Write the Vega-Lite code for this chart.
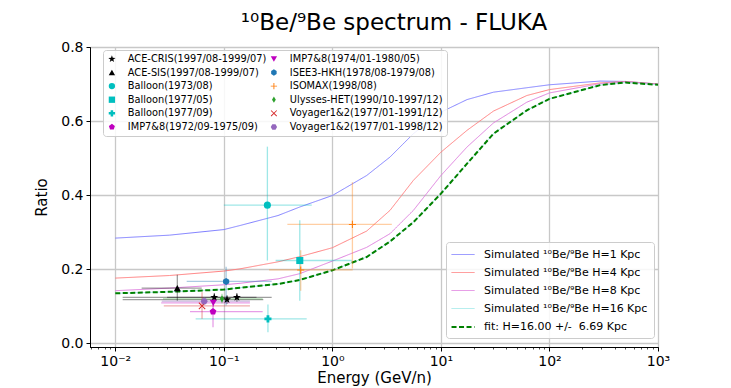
{
  "$schema": "https://vega.github.io/schema/vega-lite/v6.json",
  "width": 568,
  "height": 300,
  "autosize": "none",
  "padding": {"left": 90, "top": 47, "right": 73, "bottom": 41},
  "config": {
    "font": "DejaVu Sans",
    "view": {"stroke": "#000000", "strokeWidth": 1},
    "axis": {"labelColor": "#000000", "titleColor": "#000000", "tickColor": "#000000", "domainColor": "#000000", "gridColor": "#c8c8c8", "gridWidth": 1.3, "titleFontWeight": "normal", "labelFont": "DejaVu Sans", "titleFont": "DejaVu Sans"}
  },
  "title": {"text": "¹⁰Be/⁹Be spectrum - FLUKA", "fontSize": 23, "fontWeight": "normal", "font": "DejaVu Sans", "anchor": "middle", "frame": "group", "dx": 20, "offset": 5, "color": "#000000"},
  "datasets": {
    "points": [
      {"dataset": "ACE-CRIS(1997/08-1999/07)", "E": 0.0817, "r": 0.124, "xlo": 0.0117, "xhi": 0.20, "ylo": 0.112, "yhi": 0.136},
      {"dataset": "ACE-CRIS(1997/08-1999/07)", "E": 0.107, "r": 0.118, "xlo": 0.0117, "xhi": 0.231, "ylo": 0.106, "yhi": 0.130},
      {"dataset": "ACE-CRIS(1997/08-1999/07)", "E": 0.132, "r": 0.124, "xlo": 0.03, "xhi": 0.276, "ylo": 0.112, "yhi": 0.136},
      {"dataset": "ACE-SIS(1997/08-1999/07)", "E": 0.0373, "r": 0.149, "xlo": 0.0175, "xhi": 0.0626, "ylo": 0.115, "yhi": 0.185},
      {"dataset": "Balloon(1973/08)", "E": 0.252, "r": 0.373, "xlo": 0.1, "xhi": 0.646, "ylo": 0.2235, "yhi": 0.531},
      {"dataset": "Balloon(1977/05)", "E": 0.501, "r": 0.2235, "xlo": 0.30, "xhi": 1.51, "ylo": 0.115, "yhi": 0.332},
      {"dataset": "Balloon(1977/09)", "E": 0.255, "r": 0.066, "xlo": 0.055, "xhi": 0.58, "ylo": 0.030, "yhi": 0.105},
      {"dataset": "IMP7&8(1972/09-1975/09)", "E": 0.0795, "r": 0.0857, "xlo": 0.0488, "xhi": 0.228, "ylo": 0.043, "yhi": 0.113},
      {"dataset": "IMP7&8(1974/01-1980/05)", "E": 0.080, "r": 0.109, "xlo": 0.0265, "xhi": 0.174, "ylo": 0.097, "yhi": 0.121},
      {"dataset": "ISEE3-HKH(1978/08-1979/08)", "E": 0.105, "r": 0.167, "xlo": 0.0455, "xhi": 0.276, "ylo": 0.102, "yhi": 0.207},
      {"dataset": "ISOMAX(1998/08)", "E": 1.53, "r": 0.321, "xlo": 0.385, "xhi": 3.53, "ylo": 0.202, "yhi": 0.435},
      {"dataset": "ISOMAX(1998/08)", "E": 0.511, "r": 0.198, "xlo": 0.261, "xhi": 1.54, "ylo": 0.142, "yhi": 0.251},
      {"dataset": "Ulysses-HET(1990/10-1997/12)", "E": 0.0962, "r": 0.120, "xlo": 0.0275, "xhi": 0.228, "ylo": 0.108, "yhi": 0.134},
      {"dataset": "Voyager1&2(1977/01-1991/12)", "E": 0.063, "r": 0.101, "xlo": 0.028, "xhi": 0.174, "ylo": 0.066, "yhi": 0.138},
      {"dataset": "Voyager1&2(1977/01-1998/12)", "E": 0.066, "r": 0.1135, "xlo": 0.0268, "xhi": 0.174, "ylo": 0.103, "yhi": 0.124}
    ],
    "curves": [
      {"series": "Simulated ¹⁰Be/⁹Be H=1 Kpc", "E": 0.01, "r": 0.284},
      {"series": "Simulated ¹⁰Be/⁹Be H=1 Kpc", "E": 0.0316, "r": 0.292},
      {"series": "Simulated ¹⁰Be/⁹Be H=1 Kpc", "E": 0.1, "r": 0.307},
      {"series": "Simulated ¹⁰Be/⁹Be H=1 Kpc", "E": 0.141, "r": 0.318},
      {"series": "Simulated ¹⁰Be/⁹Be H=1 Kpc", "E": 0.316, "r": 0.345},
      {"series": "Simulated ¹⁰Be/⁹Be H=1 Kpc", "E": 0.501, "r": 0.368},
      {"series": "Simulated ¹⁰Be/⁹Be H=1 Kpc", "E": 1, "r": 0.399},
      {"series": "Simulated ¹⁰Be/⁹Be H=1 Kpc", "E": 2.07, "r": 0.453},
      {"series": "Simulated ¹⁰Be/⁹Be H=1 Kpc", "E": 3.40, "r": 0.503},
      {"series": "Simulated ¹⁰Be/⁹Be H=1 Kpc", "E": 5.58, "r": 0.566},
      {"series": "Simulated ¹⁰Be/⁹Be H=1 Kpc", "E": 10, "r": 0.624},
      {"series": "Simulated ¹⁰Be/⁹Be H=1 Kpc", "E": 17.4, "r": 0.658},
      {"series": "Simulated ¹⁰Be/⁹Be H=1 Kpc", "E": 30.5, "r": 0.678},
      {"series": "Simulated ¹⁰Be/⁹Be H=1 Kpc", "E": 61.9, "r": 0.690},
      {"series": "Simulated ¹⁰Be/⁹Be H=1 Kpc", "E": 100, "r": 0.698},
      {"series": "Simulated ¹⁰Be/⁹Be H=1 Kpc", "E": 293, "r": 0.708},
      {"series": "Simulated ¹⁰Be/⁹Be H=1 Kpc", "E": 501, "r": 0.707},
      {"series": "Simulated ¹⁰Be/⁹Be H=1 Kpc", "E": 1000, "r": 0.700},
      {"series": "Simulated ¹⁰Be/⁹Be H=4 Kpc", "E": 0.01, "r": 0.176},
      {"series": "Simulated ¹⁰Be/⁹Be H=4 Kpc", "E": 0.0316, "r": 0.183},
      {"series": "Simulated ¹⁰Be/⁹Be H=4 Kpc", "E": 0.1, "r": 0.195},
      {"series": "Simulated ¹⁰Be/⁹Be H=4 Kpc", "E": 0.141, "r": 0.201},
      {"series": "Simulated ¹⁰Be/⁹Be H=4 Kpc", "E": 0.316, "r": 0.220},
      {"series": "Simulated ¹⁰Be/⁹Be H=4 Kpc", "E": 0.501, "r": 0.234},
      {"series": "Simulated ¹⁰Be/⁹Be H=4 Kpc", "E": 1, "r": 0.258},
      {"series": "Simulated ¹⁰Be/⁹Be H=4 Kpc", "E": 2.07, "r": 0.303},
      {"series": "Simulated ¹⁰Be/⁹Be H=4 Kpc", "E": 3.40, "r": 0.359},
      {"series": "Simulated ¹⁰Be/⁹Be H=4 Kpc", "E": 5.58, "r": 0.440},
      {"series": "Simulated ¹⁰Be/⁹Be H=4 Kpc", "E": 10, "r": 0.516},
      {"series": "Simulated ¹⁰Be/⁹Be H=4 Kpc", "E": 17.4, "r": 0.575},
      {"series": "Simulated ¹⁰Be/⁹Be H=4 Kpc", "E": 30.5, "r": 0.627},
      {"series": "Simulated ¹⁰Be/⁹Be H=4 Kpc", "E": 61.9, "r": 0.669},
      {"series": "Simulated ¹⁰Be/⁹Be H=4 Kpc", "E": 100, "r": 0.685},
      {"series": "Simulated ¹⁰Be/⁹Be H=4 Kpc", "E": 293, "r": 0.703},
      {"series": "Simulated ¹⁰Be/⁹Be H=4 Kpc", "E": 501, "r": 0.707},
      {"series": "Simulated ¹⁰Be/⁹Be H=4 Kpc", "E": 1000, "r": 0.700},
      {"series": "Simulated ¹⁰Be/⁹Be H=8 Kpc", "E": 0.01, "r": 0.142},
      {"series": "Simulated ¹⁰Be/⁹Be H=8 Kpc", "E": 0.0316, "r": 0.149},
      {"series": "Simulated ¹⁰Be/⁹Be H=8 Kpc", "E": 0.1, "r": 0.158},
      {"series": "Simulated ¹⁰Be/⁹Be H=8 Kpc", "E": 0.141, "r": 0.162},
      {"series": "Simulated ¹⁰Be/⁹Be H=8 Kpc", "E": 0.316, "r": 0.174},
      {"series": "Simulated ¹⁰Be/⁹Be H=8 Kpc", "E": 0.501, "r": 0.188},
      {"series": "Simulated ¹⁰Be/⁹Be H=8 Kpc", "E": 1, "r": 0.222},
      {"series": "Simulated ¹⁰Be/⁹Be H=8 Kpc", "E": 2.07, "r": 0.259},
      {"series": "Simulated ¹⁰Be/⁹Be H=8 Kpc", "E": 3.40, "r": 0.296},
      {"series": "Simulated ¹⁰Be/⁹Be H=8 Kpc", "E": 5.58, "r": 0.359},
      {"series": "Simulated ¹⁰Be/⁹Be H=8 Kpc", "E": 10, "r": 0.453},
      {"series": "Simulated ¹⁰Be/⁹Be H=8 Kpc", "E": 17.4, "r": 0.530},
      {"series": "Simulated ¹⁰Be/⁹Be H=8 Kpc", "E": 30.5, "r": 0.595},
      {"series": "Simulated ¹⁰Be/⁹Be H=8 Kpc", "E": 61.9, "r": 0.651},
      {"series": "Simulated ¹⁰Be/⁹Be H=8 Kpc", "E": 100, "r": 0.676},
      {"series": "Simulated ¹⁰Be/⁹Be H=8 Kpc", "E": 293, "r": 0.701},
      {"series": "Simulated ¹⁰Be/⁹Be H=8 Kpc", "E": 501, "r": 0.706},
      {"series": "Simulated ¹⁰Be/⁹Be H=8 Kpc", "E": 1000, "r": 0.699},
      {"series": "Simulated ¹⁰Be/⁹Be H=16 Kpc", "E": 0.01, "r": 0.135},
      {"series": "Simulated ¹⁰Be/⁹Be H=16 Kpc", "E": 0.0316, "r": 0.139},
      {"series": "Simulated ¹⁰Be/⁹Be H=16 Kpc", "E": 0.1, "r": 0.145},
      {"series": "Simulated ¹⁰Be/⁹Be H=16 Kpc", "E": 0.141, "r": 0.150},
      {"series": "Simulated ¹⁰Be/⁹Be H=16 Kpc", "E": 0.316, "r": 0.160},
      {"series": "Simulated ¹⁰Be/⁹Be H=16 Kpc", "E": 0.501, "r": 0.171},
      {"series": "Simulated ¹⁰Be/⁹Be H=16 Kpc", "E": 1, "r": 0.197},
      {"series": "Simulated ¹⁰Be/⁹Be H=16 Kpc", "E": 2.07, "r": 0.233},
      {"series": "Simulated ¹⁰Be/⁹Be H=16 Kpc", "E": 3.40, "r": 0.275},
      {"series": "Simulated ¹⁰Be/⁹Be H=16 Kpc", "E": 5.58, "r": 0.327},
      {"series": "Simulated ¹⁰Be/⁹Be H=16 Kpc", "E": 10, "r": 0.404},
      {"series": "Simulated ¹⁰Be/⁹Be H=16 Kpc", "E": 17.4, "r": 0.485},
      {"series": "Simulated ¹⁰Be/⁹Be H=16 Kpc", "E": 30.5, "r": 0.566},
      {"series": "Simulated ¹⁰Be/⁹Be H=16 Kpc", "E": 61.9, "r": 0.629},
      {"series": "Simulated ¹⁰Be/⁹Be H=16 Kpc", "E": 100, "r": 0.660},
      {"series": "Simulated ¹⁰Be/⁹Be H=16 Kpc", "E": 293, "r": 0.697},
      {"series": "Simulated ¹⁰Be/⁹Be H=16 Kpc", "E": 501, "r": 0.704},
      {"series": "Simulated ¹⁰Be/⁹Be H=16 Kpc", "E": 1000, "r": 0.698},
      {"series": "fit: H=16.00 +/- \u00a06.69 Kpc", "E": 0.01, "r": 0.135},
      {"series": "fit: H=16.00 +/- \u00a06.69 Kpc", "E": 0.0316, "r": 0.139},
      {"series": "fit: H=16.00 +/- \u00a06.69 Kpc", "E": 0.1, "r": 0.145},
      {"series": "fit: H=16.00 +/- \u00a06.69 Kpc", "E": 0.141, "r": 0.150},
      {"series": "fit: H=16.00 +/- \u00a06.69 Kpc", "E": 0.316, "r": 0.160},
      {"series": "fit: H=16.00 +/- \u00a06.69 Kpc", "E": 0.501, "r": 0.171},
      {"series": "fit: H=16.00 +/- \u00a06.69 Kpc", "E": 1, "r": 0.197},
      {"series": "fit: H=16.00 +/- \u00a06.69 Kpc", "E": 2.07, "r": 0.233},
      {"series": "fit: H=16.00 +/- \u00a06.69 Kpc", "E": 3.40, "r": 0.275},
      {"series": "fit: H=16.00 +/- \u00a06.69 Kpc", "E": 5.58, "r": 0.327},
      {"series": "fit: H=16.00 +/- \u00a06.69 Kpc", "E": 10, "r": 0.404},
      {"series": "fit: H=16.00 +/- \u00a06.69 Kpc", "E": 17.4, "r": 0.485},
      {"series": "fit: H=16.00 +/- \u00a06.69 Kpc", "E": 30.5, "r": 0.566},
      {"series": "fit: H=16.00 +/- \u00a06.69 Kpc", "E": 61.9, "r": 0.629},
      {"series": "fit: H=16.00 +/- \u00a06.69 Kpc", "E": 100, "r": 0.660},
      {"series": "fit: H=16.00 +/- \u00a06.69 Kpc", "E": 293, "r": 0.697},
      {"series": "fit: H=16.00 +/- \u00a06.69 Kpc", "E": 501, "r": 0.704},
      {"series": "fit: H=16.00 +/- \u00a06.69 Kpc", "E": 1000, "r": 0.698}
    ]
  },
  "layer": [
    {
      "data": {"name": "curves"},
      "mark": {"type": "line", "clip": true},
      "encoding": {
        "x": {"field": "E", "type": "quantitative", "scale": {"type": "log", "domain": [0.00585, 1000], "nice": false},
          "axis": {"values": [0.01, 0.1, 1, 10, 100, 1000], "labelExpr": "round(log(datum.value)/LN10) == -2 ? '10⁻²' : round(log(datum.value)/LN10) == -1 ? '10⁻¹' : round(log(datum.value)/LN10) == 0 ? '10⁰' : round(log(datum.value)/LN10) == 1 ? '10¹' : round(log(datum.value)/LN10) == 2 ? '10²' : '10³'", "title": "Energy (GeV/n)", "titleFontSize": 15, "labelFontSize": 14, "tickSize": 4, "labelPadding": 3, "titlePadding": 2, "labelFlush": false, "labelOverlap": false, "orient": "bottom"}},
        "y": {"field": "r", "type": "quantitative", "scale": {"domain": [-0.01, 0.8], "nice": false, "zero": false},
          "axis": {"values": [0, 0.1, 0.2, 0.3, 0.4, 0.5, 0.6, 0.7, 0.8], "format": ".1f", "title": "Ratio", "titleFontSize": 15, "labelFontSize": 14, "tickSize": 4, "labelPadding": 3, "titlePadding": 11}},
        "stroke": {"field": "series", "type": "nominal",
          "scale": {"domain": ["Simulated ¹⁰Be/⁹Be H=1 Kpc", "Simulated ¹⁰Be/⁹Be H=4 Kpc", "Simulated ¹⁰Be/⁹Be H=8 Kpc", "Simulated ¹⁰Be/⁹Be H=16 Kpc", "fit: H=16.00 +/- \u00a06.69 Kpc"], "range": ["#7f7fff", "#ff7f7f", "#df7fdf", "#9fe8e8", "#008000"]},
          "legend": {"title": null, "orient": "none", "legendX": 356, "legendY": 195, "rowPadding": 6, "labelFontSize": 11, "labelFont": "DejaVu Sans", "labelColor": "#000000", "symbolType": "M-1.3,0L2.7,0", "symbolSize": 132, "labelOffset": 18, "padding": 6, "strokeColor": "#cccccc", "fillColor": "rgba(255,255,255,0.85)", "cornerRadius": 3, "labelLimit": 400}},
        "strokeDash": {"field": "series", "type": "nominal",
          "scale": {"domain": ["Simulated ¹⁰Be/⁹Be H=1 Kpc", "Simulated ¹⁰Be/⁹Be H=4 Kpc", "Simulated ¹⁰Be/⁹Be H=8 Kpc", "Simulated ¹⁰Be/⁹Be H=16 Kpc", "fit: H=16.00 +/- \u00a06.69 Kpc"], "range": [[1, 0], [1, 0], [1, 0], [1, 0], [5, 2.5]]},
          "legend": {"title": null, "orient": "none", "legendX": 356, "legendY": 195, "rowPadding": 6, "labelFontSize": 11, "labelFont": "DejaVu Sans", "labelColor": "#000000", "symbolType": "M-1.3,0L2.7,0", "symbolSize": 132, "labelOffset": 18, "padding": 6, "strokeColor": "#cccccc", "fillColor": "rgba(255,255,255,0.85)", "cornerRadius": 3, "labelLimit": 400}},
        "strokeWidth": {"field": "series", "type": "nominal",
          "scale": {"type": "ordinal", "domain": ["Simulated ¹⁰Be/⁹Be H=1 Kpc", "Simulated ¹⁰Be/⁹Be H=4 Kpc", "Simulated ¹⁰Be/⁹Be H=8 Kpc", "Simulated ¹⁰Be/⁹Be H=16 Kpc", "fit: H=16.00 +/- \u00a06.69 Kpc"], "range": [1, 1, 1, 1, 2]},
          "legend": {"title": null, "orient": "none", "legendX": 356, "legendY": 195, "rowPadding": 6, "labelFontSize": 11, "labelFont": "DejaVu Sans", "labelColor": "#000000", "symbolType": "M-1.3,0L2.7,0", "symbolSize": 132, "labelOffset": 18, "padding": 6, "strokeColor": "#cccccc", "fillColor": "rgba(255,255,255,0.85)", "cornerRadius": 3, "labelLimit": 400}}
      }
    },
    {
      "data": {"name": "points"},
      "mark": {"type": "rule", "strokeWidth": 1.3, "opacity": 0.38},
      "encoding": {
        "x": {"field": "xlo", "type": "quantitative", "axis": {"orient": "bottom", "values": [0.006, 0.007, 0.008, 0.009, 0.02, 0.03, 0.04, 0.05, 0.06, 0.07, 0.08, 0.09, 0.2, 0.3, 0.4, 0.5, 0.6, 0.7, 0.8, 0.9, 2, 3, 4, 5, 6, 7, 8, 9, 20, 30, 40, 50, 60, 70, 80, 90, 200, 300, 400, 500, 600, 700, 800, 900], "labels": false, "grid": false, "domain": false, "title": null, "tickSize": 2, "tickWidth": 0.7}},
        "x2": {"field": "xhi"},
        "y": {"field": "r", "type": "quantitative"},
        "color": {"field": "dataset", "type": "nominal", "legend": null,
          "scale": {"domain": ["Voyager1&2(1977/01-1998/12)", "Voyager1&2(1977/01-1991/12)", "Ulysses-HET(1990/10-1997/12)", "ISOMAX(1998/08)", "ISEE3-HKH(1978/08-1979/08)", "IMP7&8(1974/01-1980/05)", "IMP7&8(1972/09-1975/09)", "Balloon(1977/09)", "Balloon(1977/05)", "Balloon(1973/08)", "ACE-SIS(1997/08-1999/07)", "ACE-CRIS(1997/08-1999/07)"], "range": ["#9467bd", "#d62728", "#2ca02c", "#ff7f0e", "#1f77b4", "#bf00bf", "#bf00bf", "#00bfbf", "#00bfbf", "#00bfbf", "#000000", "#000000"]}}
      }
    },
    {
      "data": {"name": "points"},
      "mark": {"type": "rule", "strokeWidth": 1.3, "opacity": 0.38},
      "encoding": {
        "x": {"field": "E", "type": "quantitative", "axis": null},
        "y": {"field": "ylo", "type": "quantitative"},
        "y2": {"field": "yhi"},
        "color": {"field": "dataset", "type": "nominal", "legend": null}
      }
    },
    {
      "data": {"name": "points"},
      "mark": {"type": "point", "filled": true, "size": 50, "opacity": 1, "strokeWidth": 0},
      "encoding": {
        "x": {"field": "E", "type": "quantitative", "axis": null},
        "y": {"field": "r", "type": "quantitative"},
        "fill": {"field": "dataset", "type": "nominal",
          "scale": {"domain": ["ACE-CRIS(1997/08-1999/07)", "ACE-SIS(1997/08-1999/07)", "Balloon(1973/08)", "Balloon(1977/05)", "Balloon(1977/09)", "IMP7&8(1972/09-1975/09)", "IMP7&8(1974/01-1980/05)", "ISEE3-HKH(1978/08-1979/08)", "ISOMAX(1998/08)", "Ulysses-HET(1990/10-1997/12)", "Voyager1&2(1977/01-1991/12)", "Voyager1&2(1977/01-1998/12)"], "range": ["#000000", "#000000", "#00bfbf", "#00bfbf", "#00bfbf", "#bf00bf", "#bf00bf", "#1f77b4", "#ff7f0e", "#2ca02c", "#d62728", "#9467bd"]},
          "legend": {"title": null, "orient": "none", "legendX": 13, "legendY": 3, "columns": 2, "columnPadding": 2, "rowPadding": 2.6, "labelFontSize": 9.8, "labelFont": "DejaVu Sans", "labelColor": "#000000", "symbolSize": 40, "labelOffset": 11, "padding": 4, "strokeColor": "#cccccc", "fillColor": "rgba(255,255,255,0.85)", "cornerRadius": 3, "symbolStrokeWidth": 0, "labelLimit": 300}},
        "shape": {"field": "dataset", "type": "nominal",
          "scale": {"domain": ["ACE-CRIS(1997/08-1999/07)", "ACE-SIS(1997/08-1999/07)", "Balloon(1973/08)", "Balloon(1977/05)", "Balloon(1977/09)", "IMP7&8(1972/09-1975/09)", "IMP7&8(1974/01-1980/05)", "ISEE3-HKH(1978/08-1979/08)", "ISOMAX(1998/08)", "Ulysses-HET(1990/10-1997/12)", "Voyager1&2(1977/01-1991/12)", "Voyager1&2(1977/01-1998/12)"],
            "range": ["M0,-1.2L0.28,-0.39L1.14,-0.37L0.45,0.14L0.7,0.97L0,0.48L-0.7,0.97L-0.45,0.14L-1.14,-0.37L-0.28,-0.39Z", "triangle-up", "circle", "square", "cross", "M0,-1L0.951,-0.309L0.588,0.809L-0.588,0.809L-0.951,-0.309Z", "triangle-down", "M0,-1L0.866,-0.5L0.866,0.5L0,1L-0.866,0.5L-0.866,-0.5Z", "M-1,-0.15L1,-0.15L1,0.15L-1,0.15Z M-0.15,-1L0.15,-1L0.15,1L-0.15,1Z", "M0,-1L0.6,0L0,1L-0.6,0Z", "M-1,-0.8L-0.8,-1L0,-0.2L0.8,-1L1,-0.8L0.2,0L1,0.8L0.8,1L0,0.2L-0.8,1L-1,0.8L-0.2,0Z", "M-1,0L-0.5,-0.866L0.5,-0.866L1,0L0.5,0.866L-0.5,0.866Z"]},
          "legend": {"title": null, "orient": "none", "legendX": 13, "legendY": 3, "columns": 2, "columnPadding": 2, "rowPadding": 2.6, "labelFontSize": 9.8, "labelFont": "DejaVu Sans", "labelColor": "#000000", "symbolSize": 40, "labelOffset": 11, "padding": 4, "strokeColor": "#cccccc", "fillColor": "rgba(255,255,255,0.85)", "cornerRadius": 3, "symbolStrokeWidth": 0, "labelLimit": 300}}
      }
    }
  ],
  "resolve": {"axis": {"x": "independent"}}
}
